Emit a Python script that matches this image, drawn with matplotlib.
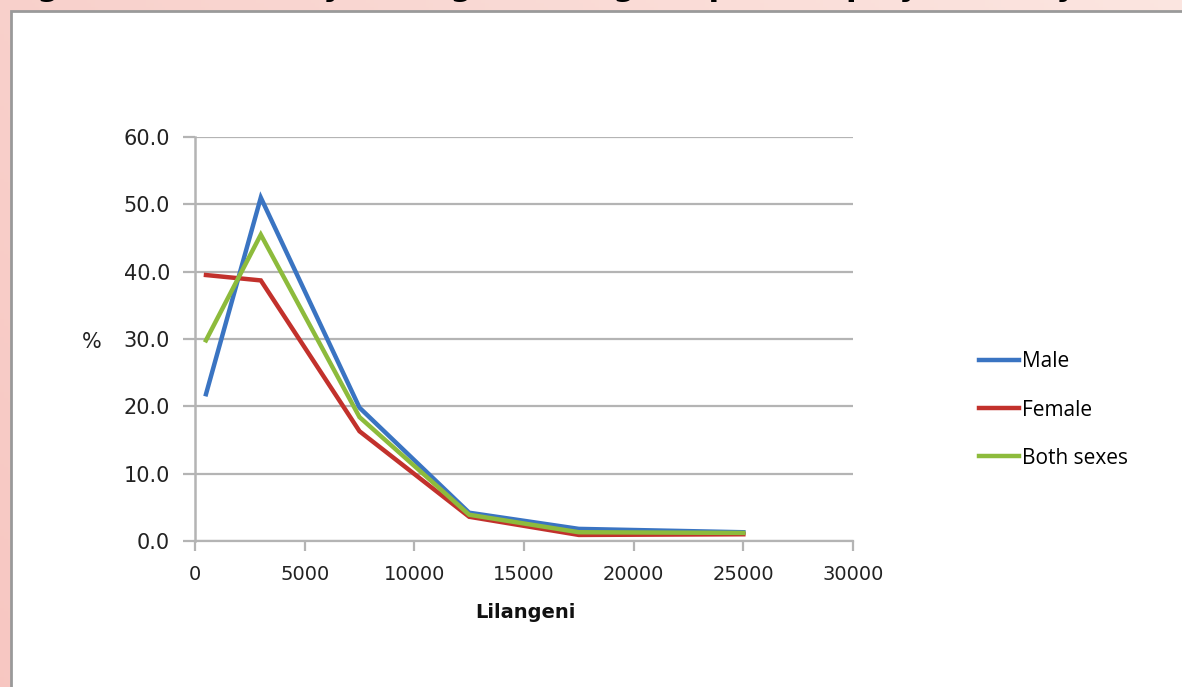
import numpy as np
import matplotlib
matplotlib.use("Agg")
import matplotlib.pyplot as plt
from matplotlib.patches import Rectangle
from matplotlib.lines import Line2D

# Data
lilangeni = [500, 3000, 7500, 12500, 17500, 25000]
male = [21.8, 51.0, 19.8, 4.2, 1.8, 1.3]
female = [39.5, 38.7, 16.3, 3.6, 0.9, 1.0]
both = [29.8, 45.5, 18.4, 3.9, 1.3, 1.2]
series_names = ["Male", "Female", "Both sexes"]
xticks = [0, 5000, 10000, 15000, 20000, 25000, 30000]
yticks = [0, 10, 20, 30, 40, 50, 60]
title_text = "Figure 6.6: Monthly average earnings of paid employees (15 years+), by sex"

colors = ["#3a74c2", "#c2312c", "#8dbb3c"]

W, H = 1182, 687
fig = plt.figure(figsize=(W / 100, H / 100), dpi=100)

# background: pink gradient
bg = fig.add_axes([0, 0, 1, 1], zorder=-10)
bg.set_axis_off()
xs = np.linspace(0, 1, 300)
ys = np.linspace(0, 1, 200)
X, Y = np.meshgrid(xs, ys)
t = np.clip(0.55 * X + 0.25 * (1 - Y), 0, 1)
c0 = np.array([0.97, 0.78, 0.76])
c1 = np.array([0.99, 0.93, 0.91])
img = c0[None, None, :] * (1 - t[..., None]) + c1[None, None, :] * t[..., None]
bg.imshow(img, extent=[0, 1, 0, 1], aspect="auto", origin="upper")
bg.set_xlim(0, 1)
bg.set_ylim(0, 1)
# white inner panel
bg.add_patch(Rectangle((11 / W, -0.01), 1.02, 1 - 11 / H + 0.01, facecolor="white",
                       edgecolor="#9a9a9a", linewidth=2.0, transform=bg.transAxes))
# title: only its lowest part shows above the panel, as in the reference
fig.text(0.005, 1 + 4 / H, title_text, fontsize=22, fontweight="bold", color="black",
         va="baseline", ha="left", family="DejaVu Sans", zorder=-5)

ax = fig.add_axes([195 / W, 1 - 541 / H, (853 - 195) / W, (541 - 137) / H])
ax.set_facecolor("none")
for vals, name, c in zip([male, female, both], series_names, colors):
    ax.plot(lilangeni, vals, color=c, linewidth=3.2, label=name, solid_joinstyle="miter")

ax.set_xlim(0, 30000)
ax.set_ylim(0, 60)
ax.set_xticks(xticks)
ax.set_yticks(yticks)
ax.set_xticklabels([str(v) for v in xticks], fontsize=14, color="#222222", family="DejaVu Sans")
ax.set_yticklabels([f"{v:.1f}" for v in yticks], fontsize=15, color="#222222", family="DejaVu Sans")
ax.yaxis.grid(True, color="#b4b4b4", linewidth=1.6)
ax.set_axisbelow(True)
for s in ["top", "right"]:
    ax.spines[s].set_visible(False)
ax.spines["left"].set_color("#b4b4b4")
ax.spines["left"].set_linewidth(1.8)
ax.spines["bottom"].set_color("#b4b4b4")
ax.spines["bottom"].set_linewidth(1.6)
ax.tick_params(axis="y", length=9, width=1.6, color="#b4b4b4", pad=9)
ax.tick_params(axis="x", length=7, width=1.6, color="#b4b4b4", pad=10)

fig.text(92 / W, 1 - 342 / H, "%", fontsize=15, color="#222222", ha="center", va="center",
         family="DejaVu Sans")
fig.text(525 / W, 1 - 613 / H, "Lilangeni", fontsize=14, fontweight="bold", color="#111111",
         ha="center", va="center", family="DejaVu Sans")

handles = [Line2D([0], [0], color=c, linewidth=3.2) for c in colors]
fig.legend(handles, series_names, loc="center left", bbox_to_anchor=(960 / W, 1 - 410 / H),
           frameon=False, handlelength=1.95, handletextpad=0.12, labelspacing=1.3,
           prop={"family": "Open Sans", "size": 15})

fig.savefig("out.png", dpi=100)
